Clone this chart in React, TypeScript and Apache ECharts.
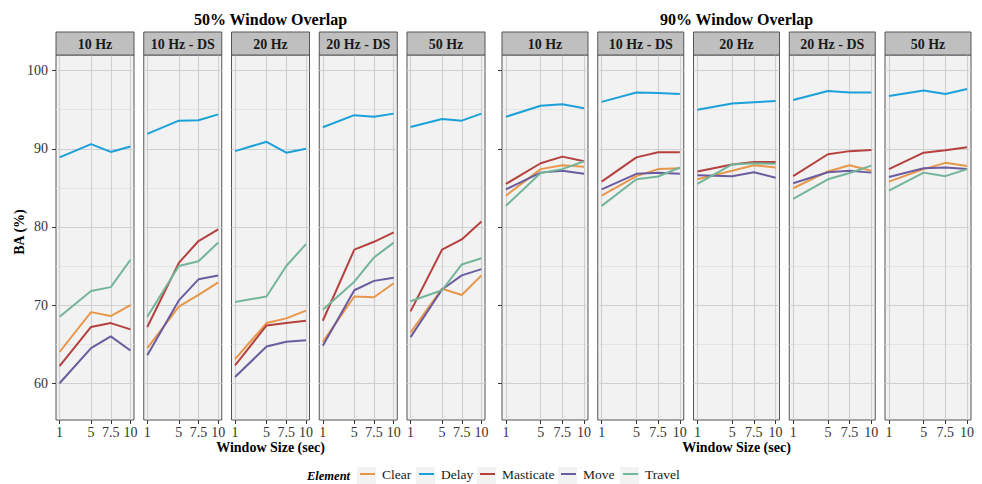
import React, { useEffect, useRef } from 'react';
import * as echarts from 'echarts';

const windowSizes = [1, 5, 7.5, 10];
const xTicks = [1, 5, 7.5, 10];
const yTicks = [60, 70, 80, 90, 100];
const yMinor = [65, 75, 85, 95];
const rates = ['10 Hz', '10 Hz - DS', '20 Hz', '20 Hz - DS', '50 Hz'];
const overlaps = ['50% Window Overlap', '90% Window Overlap'];
const elements = ['Clear', 'Delay', 'Masticate', 'Move', 'Travel'];
const colors = ['#E8964A', '#1BA1D9', '#B5413F', '#6B5C9F', '#73B598'];

// 50% overlap: one row per sampling rate, values at window sizes 1, 5, 7.5, 10
const clear50 = [[64.0, 69.1, 68.6, 70.0], [64.5, 69.8, 71.3, 72.9], [63.1, 67.7, 68.3, 69.3], [65.3, 71.1, 71.0, 72.8], [66.5, 72.1, 71.3, 73.8]];
const delay50 = [[88.9, 90.6, 89.6, 90.3], [91.9, 93.6, 93.65, 94.4], [89.7, 90.9, 89.5, 90.0], [92.75, 94.3, 94.1, 94.5], [92.8, 93.8, 93.6, 94.5]];
const masticate50 = [[62.2, 67.2, 67.7, 66.9], [67.2, 75.4, 78.2, 79.7], [62.3, 67.4, 67.7, 68.0], [68.0, 77.1, 78.1, 79.3], [69.2, 77.1, 78.4, 80.7]];
const move50 = [[60.0, 64.5, 66.0, 64.2], [63.6, 70.6, 73.3, 73.8], [60.8, 64.7, 65.3, 65.5], [64.8, 71.9, 73.1, 73.5], [65.9, 72.0, 73.8, 74.6]];
const travel50 = [[68.5, 71.8, 72.3, 75.8], [68.5, 75.0, 75.6, 78.0], [70.4, 71.1, 75.0, 77.8], [69.4, 73.0, 76.1, 78.0], [70.5, 71.9, 75.2, 76.0]];

// 90% overlap
const clear90 = [[84.0, 87.4, 87.9, 87.7], [84.0, 86.5, 87.4, 87.5], [86.1, 87.2, 87.9, 87.6], [84.95, 87.1, 87.9, 87.2], [85.8, 87.4, 88.2, 87.8]];
const delay90 = [[94.1, 95.5, 95.7, 95.2], [96.0, 97.2, 97.15, 97.0], [95.0, 95.8, 95.95, 96.1], [96.25, 97.4, 97.2, 97.2], [96.75, 97.45, 97.0, 97.65]];
const masticate90 = [[85.5, 88.15, 89.0, 88.4], [85.8, 88.9, 89.55, 89.55], [87.1, 88.0, 88.3, 88.3], [86.5, 89.3, 89.7, 89.85], [87.4, 89.5, 89.8, 90.2]];
const move90 = [[84.8, 86.95, 87.2, 86.8], [84.8, 86.8, 86.95, 86.8], [86.6, 86.5, 87.0, 86.3], [85.6, 87.0, 87.2, 86.95], [86.4, 87.5, 87.6, 87.4]];
const travel90 = [[82.7, 86.9, 87.4, 88.4], [82.7, 86.1, 86.45, 87.6], [85.5, 88.0, 88.15, 88.1], [83.6, 86.1, 86.9, 87.85], [84.65, 86.95, 86.5, 87.4]];

const FONT = '"Liberation Serif", "Times New Roman", serif';

export default function App() {
  const ref = useRef<HTMLDivElement>(null);

  useEffect(() => {
    if (!ref.current) return;
    const chart = echarts.init(ref.current, null, { renderer: 'svg' });

    const data50 = [clear50, delay50, masticate50, move50, travel50];
    const data90 = [clear90, delay90, masticate90, move90, travel90];
    const groups = [
      { title: overlaps[0], data: data50, left: 56, step: 87.75, width: 78 },
      { title: overlaps[1], data: data90, left: 502, step: 95.75, width: 86 },
    ];
    const top = 55;
    const height = 365;

    const grids: any[] = [];
    const xAxes: any[] = [];
    const yAxes: any[] = [];
    const series: any[] = [];
    const graphics: any[] = [];
    let gi = 0;

    groups.forEach((g, gIdx) => {
      rates.forEach((rate, r) => {
        const left = g.left + r * g.step;
        grids.push({
          left, top, width: g.width, height, show: true,
          backgroundColor: '#f2f2f2', borderColor: '#555555', borderWidth: 1,
        });
        xAxes.push({
          type: 'value', gridIndex: gi, min: 0.55, max: 10.45,
          axisLine: { show: false }, splitLine: { show: false },
          axisTick: { show: true, customValues: xTicks, length: 4, lineStyle: { color: '#333333', width: 1 } },
          axisLabel: { customValues: xTicks, color: '#333333', fontFamily: FONT, fontSize: 14, margin: 5 },
        });
        const showTicks = r === 0;
        yAxes.push({
          type: 'value', gridIndex: gi, min: 55.3, max: 102,
          axisLine: { show: false }, splitLine: { show: false },
          axisTick: { show: showTicks, customValues: yTicks, length: 4, lineStyle: { color: '#333333', width: 1 } },
          axisLabel: { show: showTicks && gIdx === 0, customValues: yTicks, color: '#333333', fontFamily: FONT, fontSize: 14, margin: 8 },
        });
        series.push({
          type: 'line', xAxisIndex: gi, yAxisIndex: gi, data: [], silent: true, z: 1,
          markLine: {
            silent: true, symbol: ['none', 'none'], z: 1, animation: false,
            label: { show: false },
            emphasis: { disabled: true },
            data: [
              ...yMinor.map((v) => ({ yAxis: v, lineStyle: { color: '#e0e0e0', width: 0.8, type: 'solid' } })),
              ...yTicks.map((v) => ({ yAxis: v, lineStyle: { color: '#d0d0d0', width: 1.1, type: 'solid' } })),
              ...xTicks.map((v) => ({ xAxis: v, lineStyle: { color: '#d0d0d0', width: 1.1, type: 'solid' } })),
            ],
          },
        });
        elements.forEach((el, e) => {
          series.push({
            type: 'line', name: el, xAxisIndex: gi, yAxisIndex: gi,
            data: windowSizes.map((x, k) => [x, g.data[e][r][k]]),
            symbol: 'none', silent: true, z: 10,
            lineStyle: { color: colors[e], width: 2 },
            itemStyle: { color: colors[e] },
          });
        });
        graphics.push({
          type: 'rect', z: 5,
          shape: { x: left, y: 32, width: g.width, height: 23 },
          style: { fill: '#bfbfbf', stroke: '#555555', lineWidth: 1 },
        });
        graphics.push({
          type: 'text', z: 6, x: left + g.width / 2, y: 44,
          style: { text: rate, font: `bold 14px ${FONT}`, fill: '#1a1a1a', textAlign: 'center', textVerticalAlign: 'middle' },
        });
        gi++;
      });
      const mid = g.left + 2 * g.step + g.width / 2;
      graphics.push({
        type: 'text', x: mid, y: 19,
        style: { text: g.title, font: `bold 16px ${FONT}`, fill: '#000000', textAlign: 'center', textVerticalAlign: 'middle' },
      });
      graphics.push({
        type: 'text', x: mid, y: 447,
        style: { text: 'Window Size (sec)', font: `bold 14px ${FONT}`, fill: '#000000', textAlign: 'center', textVerticalAlign: 'middle' },
      });
    });

    graphics.push({
      type: 'text', x: 19, y: 232, rotation: Math.PI / 2,
      style: { text: 'BA (%)', font: `bold 14px ${FONT}`, fill: '#000000', textAlign: 'center', textVerticalAlign: 'middle' },
    });

    // legend
    const keyLefts = [357, 416, 477, 558, 620];
    graphics.push({
      type: 'text', x: 307, y: 476,
      style: { text: 'Element', font: `italic bold 12.5px ${FONT}`, fill: '#000000', textAlign: 'left', textVerticalAlign: 'middle' },
    });
    keyLefts.forEach((kx) => {
      graphics.push({ type: 'rect', z: 0, shape: { x: kx, y: 467, width: 19, height: 17 }, style: { fill: '#f2f2f2' } });
    });
    const legends = elements.map((el, e) => ({
      data: [el], left: keyLefts[e] + 2, top: 467, itemWidth: 15, itemHeight: 17,
      selectedMode: false, padding: 0,
      itemStyle: { opacity: 0 },
      lineStyle: { width: 2 },
      textStyle: { fontFamily: FONT, fontSize: 13.5, color: '#1a1a1a', padding: [0, 0, 0, 2] },
    }));

    chart.setOption({
      animation: false,
      grid: grids,
      xAxis: xAxes,
      yAxis: yAxes,
      series,
      legend: legends,
      graphic: { elements: graphics },
    });

    return () => chart.dispose();
  }, []);

  return <div ref={ref} style={{ position: 'absolute', left: 0, top: 0, width: 982, height: 484 }} />;
}
